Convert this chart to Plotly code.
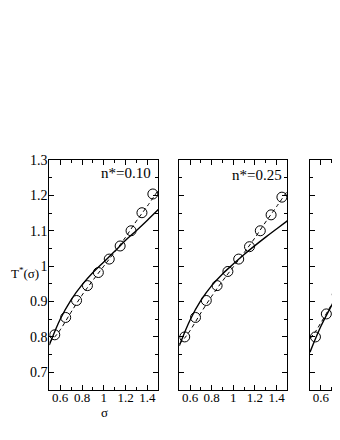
import plotly.graph_objects as go

# sigma grid for the curves
sig_curve = [0.5, 0.6, 0.7, 0.8, 0.9, 1.0, 1.1, 1.2, 1.3, 1.4, 1.5]
sig_dash = [0.5, 0.55, 0.6, 0.7, 0.8, 0.9, 1.0, 1.1, 1.2, 1.3, 1.4, 1.5]
sig_pts = [0.55, 0.65, 0.75, 0.85, 0.95, 1.05, 1.15, 1.25, 1.35, 1.45]

# n* = 0.10
solid_10 = [0.777, 0.85, 0.905, 0.947, 0.982, 1.012, 1.042, 1.073, 1.101, 1.13, 1.16]
dash_10 = [0.785, 0.80, 0.82, 0.87, 0.918, 0.96, 1.0, 1.04, 1.082, 1.128, 1.17, 1.215]
pts_10 = [0.806, 0.855, 0.903, 0.945, 0.982, 1.02, 1.057, 1.10, 1.151, 1.204]

# n* = 0.25
solid_25 = [0.775, 0.848, 0.903, 0.945, 0.978, 1.006, 1.033, 1.058, 1.082, 1.105, 1.128]
dash_25 = [0.78, 0.797, 0.818, 0.868, 0.915, 0.958, 0.998, 1.038, 1.08, 1.125, 1.168, 1.212]
pts_25 = [0.80, 0.855, 0.903, 0.945, 0.985, 1.02, 1.055, 1.10, 1.145, 1.195]

# third panel (cut off at the right edge)
sig3_curve = [0.5, 0.6, 0.7, 0.8]
solid_3 = [0.757, 0.83, 0.89, 0.95]
sig3_dash = [0.5, 0.55, 0.6, 0.65, 0.7, 0.75, 0.8]
dash_3 = [0.795, 0.815, 0.84, 0.866, 0.893, 0.92, 0.945]
sig3_pts = [0.55, 0.65, 0.75]
pts_3 = [0.80, 0.865, 0.92]

# page body has an 8px margin, so the figure is 8px smaller than the window
OFF = 8
W, H = 340 - OFF, 440 - OFF
FONT = "Liberation Serif"


def px(x):
    return (x - OFF) / W


def py(y):
    return 1 - (y - OFF) / H


fig = go.Figure()

panels = [
    (sig_curve, solid_10, sig_dash, dash_10, sig_pts, pts_10),
    (sig_curve, solid_25, sig_dash, dash_25, sig_pts, pts_25),
    (sig3_curve, solid_3, sig3_dash, dash_3, sig3_pts, pts_3),
]

for i, (xs, ys, xd, yd, xp, yp) in enumerate(panels):
    ax = "" if i == 0 else str(i + 1)
    fig.add_trace(go.Scatter(x=xs, y=ys, mode="lines", line=dict(color="black", width=1.4, shape="spline"),
                             xaxis="x" + ax, yaxis="y" + ax, showlegend=False))
    fig.add_trace(go.Scatter(x=xd, y=yd, mode="lines", line=dict(color="black", width=1, dash="4px,3px", shape="spline"),
                             xaxis="x" + ax, yaxis="y" + ax, showlegend=False))
    fig.add_trace(go.Scatter(x=xp, y=yp, mode="markers",
                             marker=dict(symbol="circle-open", size=10, color="black", line=dict(width=1)),
                             xaxis="x" + ax, yaxis="y" + ax, showlegend=False, cliponaxis=True))

y_dom = [py(390), py(160)]
x_doms = [[px(49.3), px(158.3)], [px(179.3), px(287.3)], [px(310), 1.0]]
x_ranges = [[0.5, 1.5], [0.5, 1.5], [0.5, 0.5 + 30 / 109]]

common_x = dict(showline=True, linecolor="black", linewidth=1, ticks="inside", ticklen=5,
                tickcolor="black", dtick=0.2, tick0=0.6, showgrid=False, zeroline=False,
                minor=dict(ticks="inside", ticklen=3, dtick=0.1, tick0=0.5, tickcolor="black"),
                tickfont=dict(family=FONT, size=13, color="black"), automargin=False,
                ticklabelstandoff=-5)
common_y = dict(showline=True, linecolor="black", linewidth=1, ticks="inside", ticklen=5,
                tickcolor="black", dtick=0.1, tick0=0.7, showgrid=False, zeroline=False,
                range=[0.65, 1.3], domain=y_dom,
                minor=dict(ticks="inside", ticklen=3, dtick=0.05, tick0=0.65, tickcolor="black"),
                tickfont=dict(family=FONT, size=14, color="black"), automargin=False,
                ticklabelstandoff=-2)

layout = {}
for i in range(3):
    ax = "" if i == 0 else str(i + 1)
    layout["xaxis" + ax] = dict(common_x, domain=x_doms[i], range=x_ranges[i], mirror="allticks",
                                anchor="y" + ax)
    layout["yaxis" + ax] = dict(common_y, anchor="x" + ax, showticklabels=(i == 0),
                                mirror="allticks" if i < 2 else False)

fig.update_layout(**layout)

ann = dict(xref="paper", yref="paper", showarrow=False, xanchor="center", yanchor="middle",
           font=dict(family=FONT, size=13, color="black"))

fig.update_layout(
    width=W, height=H,
    margin=dict(l=0, r=0, t=0, b=0),
    paper_bgcolor="white", plot_bgcolor="white",
    font=dict(family=FONT, size=13, color="black"),
    annotations=[
        dict(ann, text="n*=0.10", x=px(126), y=py(173), font=dict(family=FONT, size=15, color="black")),
        dict(ann, text="n*=0.25", x=px(257), y=py(175), font=dict(family=FONT, size=15, color="black")),
        dict(ann, text="T<sup>*</sup>(σ)", x=px(25), y=py(273)),
        dict(ann, text="σ", x=px(104), y=py(412)),
        dict(ann, text="0.8", x=px(342.7), y=py(396)),
    ],
)

fig.write_html("out.html")
